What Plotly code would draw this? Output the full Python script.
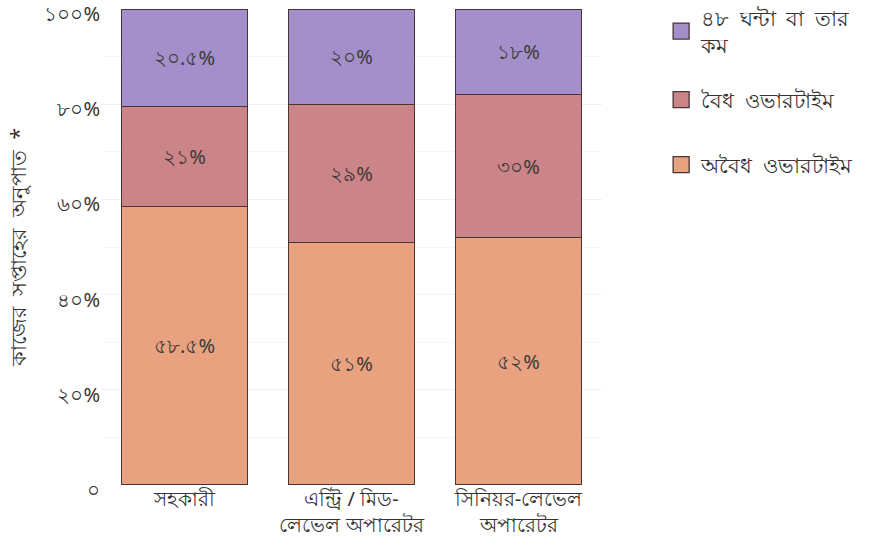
import plotly.graph_objects as go

SP = "\u2002"
categories = ["সহকারী", "এন্ট্রি / মিড-<br>লেভেল অপারেটর", "সিনিয়র-লেভেল<br>অপারেটর"]
series_names = ["অবৈধ" + SP + "ওভারটাইম", "বৈধ" + SP + "ওভারটাইম", "৪৮" + SP + "ঘন্টা" + SP + "বা" + SP + "তার<br>কম"]
illegal_ot = [58.5, 51, 52]
legal_ot = [21, 29, 30]
under48 = [20.5, 20, 18]
illegal_labels = ["৫৮.৫%", "৫১%", "৫২%"]
legal_labels = ["২১%", "২৯%", "৩০%"]
under48_labels = ["২০.৫%", "২০%", "১৮%"]
tick_vals = [0, 20, 40, 60, 80, 100]
tick_text = ["০", "২০%", "৪০%", "৬০%", "৮০%", "১০০%"]
y_title = "কাজের" + SP + "সপ্তাহের" + SP + "অনুপাত" + SP + "*"

colors = ["#e9a27f", "#cb8487", "#a48fcb"]
values = [illegal_ot, legal_ot, under48]
labels = [illegal_labels, legal_labels, under48_labels]
legend_ids = ["legend3", "legend2", "legend"]
OUTLINE = "#4a3535"

fig = go.Figure()
for i in range(3):
    fig.add_trace(go.Bar(
        x=categories, y=values[i], name=series_names[i],
        text=labels[i], textposition="inside", insidetextanchor="middle",
        textfont=dict(size=20, color="#3a3a3a"),
        marker=dict(color=colors[i], line=dict(color=OUTLINE, width=1.3)),
        width=0.755, showlegend=False, hoverinfo="skip",
    ))
# legend entries (one small legend per series, stacked top to bottom)
for i in range(3):
    fig.add_trace(go.Scatter(
        x=[None], y=[None], mode="markers", name=series_names[i],
        marker=dict(symbol="square", size=16, color=colors[i],
                    line=dict(color=OUTLINE, width=1.3)),
        legend=legend_ids[i], showlegend=True,
    ))

leg_common = dict(x=1.118, xref="paper", yref="container",
                  xanchor="left", yanchor="middle",
                  font=dict(size=21, color="#333333"), itemwidth=30,
                  bgcolor="rgba(0,0,0,0)")

fig.update_layout(
    barmode="stack",
    width=874, height=549,
    margin=dict(l=101, r=272, t=9, b=64, autoexpand=False),
    paper_bgcolor="white", plot_bgcolor="white",
    font=dict(family="Noto Sans, sans-serif", size=20, color="#333333"),
    showlegend=True,
    legend=dict(y=0.9430, **leg_common),
    legend2=dict(y=0.8179, **leg_common),
    legend3=dict(y=0.6995, **leg_common),
)
fig.update_xaxes(
    range=[-0.5, 2.5], showgrid=False, ticks="", showline=False,
    tickfont=dict(size=20, color="#333333"), automargin=False,
)
fig.update_yaxes(
    range=[0, 100], tickvals=tick_vals, ticktext=tick_text,
    showgrid=True, gridcolor="#f0f0f0", gridwidth=1,
    minor=dict(dtick=10, showgrid=True, gridcolor="#f6f6f6"),
    zeroline=False, showline=False, ticks="",
    tickfont=dict(size=20, color="#333333"), automargin=False,
    ticklabeloverflow="allow", ticklabelshift=5,
    title=dict(text=y_title, font=dict(size=21, color="#333333"), standoff=12),
)

fig.write_html(
    "out.html",
    config={"displayModeBar": False},
    post_script="document.body.style.margin='0';document.documentElement.style.margin='0';",
)
